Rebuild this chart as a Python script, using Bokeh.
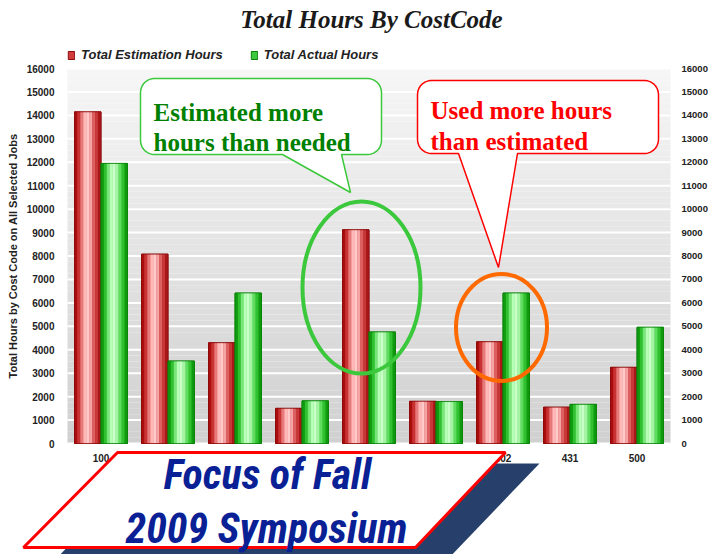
import numpy as np
from bokeh.plotting import figure
from bokeh.models import (Range1d, FixedTicker, LinearAxis, Legend, LegendItem,
                          PolyAnnotation, Label, ColumnDataSource)
from bokeh.transform import dodge
from bokeh.embed import file_html
from bokeh.resources import INLINE

# ---------------- data ----------------
cost_codes = ["100", "180", "200", "250", "303", "307", "402", "431", "500"]
estimation_hours = [14150, 8080, 4300, 1500, 9120, 1800, 4340, 1550, 3250]
actual_hours = [11950, 3520, 6420, 1820, 4760, 1790, 6420, 1670, 4960]
y_ticks = list(range(0, 16001, 1000))
series_names = ["Total Estimation Hours", "Total Actual Hours"]
chart_title = "Total Hours By CostCode"
y_title = "Total Hours by Cost Code on All Selected Jobs"

Y_MAX = 16000
N = len(cost_codes)

# page geometry: canvas at the page origin; plot area 67..670 x 68..443
CANVAS_W, CANVAS_H = 708, 554
PAGE_OFF = 0
AREA_L, AREA_R, AREA_T, AREA_B = 67, 670, 68, 443
KX = N / (AREA_R - AREA_L)          # data units per px (x)
KY = Y_MAX / (AREA_B - AREA_T)      # data units per px (y)


def dx(px):
    return (px - AREA_L) * KX


def dy(py):
    return (AREA_B - py) * KY


x_range = Range1d(dx(PAGE_OFF), dx(PAGE_OFF + CANVAS_W))
y_range = Range1d(dy(PAGE_OFF + CANVAS_H), dy(PAGE_OFF))

p = figure(x_range=x_range, y_range=y_range, width=CANVAS_W, height=CANVAS_H,
           output_backend="svg", toolbar_location=None,
           x_axis_location=None, y_axis_location=None,
           min_border=0, min_border_left=0, min_border_right=0,
           min_border_top=0, min_border_bottom=0)
p.background_fill_color = "white"
p.border_fill_color = "white"
p.outline_line_color = None
p.xgrid.visible = False
p.ygrid.visible = False

# background gradient bands of the plot area
n_bands = 64
edges = np.linspace(0, Y_MAX, n_bands + 1)
cols = []
for i in range(n_bands):
    t = (i + 0.5) / n_bands
    g = int(round(0xd0 + (0xf6 - 0xd0) * t))
    cols.append("#%02x%02x%02x" % (g, g, g))
p.quad(left=0, right=N, bottom=edges[:-1], top=edges[1:],
       fill_color=cols, line_color=None, level="image")
# white grid lines
p.segment(x0=0, x1=N, y0=y_ticks, y1=y_ticks, line_color="white", line_width=2,
          level="underlay")

# axes
tick_font = dict(major_label_text_font="Liberation Sans", major_label_text_font_style="bold",
                 major_label_text_font_size="10px", major_label_text_color="#222222",
                 axis_line_color=None, major_tick_line_color=None, minor_tick_line_color=None)
left_axis = LinearAxis(ticker=FixedTicker(ticks=y_ticks), fixed_location=0, bounds=(0, Y_MAX),
                       major_label_standoff=7, axis_label=y_title,
                       axis_label_text_font="Liberation Sans", axis_label_text_font_style="bold",
                       axis_label_text_font_size="11px", axis_label_text_color="#222222",
                       axis_label_standoff=5, **tick_font)
right_axis = LinearAxis(ticker=FixedTicker(ticks=y_ticks), fixed_location=N, bounds=(0, Y_MAX),
                        major_label_standoff=5, **tick_font)
right_axis.major_label_text_font_size = "9.5px"
x_centers = [i + 0.5 for i in range(N)]
bottom_axis = LinearAxis(ticker=FixedTicker(ticks=x_centers), fixed_location=0, bounds=(0, N),
                         major_label_overrides={c: code for c, code in zip(x_centers, cost_codes)},
                         major_label_standoff=4, **tick_font)
p.add_layout(left_axis, "left")
p.add_layout(right_axis, "right")
p.add_layout(bottom_axis, "below")

# title
p.add_layout(Label(x=dx(371), y=dy(19), text=chart_title, text_align="center",
                   text_baseline="middle", text_font="Liberation Serif",
                   text_font_style="bold italic", text_font_size="25px", text_color="#1a1a1a"))

# bars (cylinder look with vertical strips)
src = ColumnDataSource(dict(xc=x_centers, code=cost_codes, est=estimation_hours, act=actual_hours))
BAR_W = 0.395
red_strips = ["#a80e0e", "#c83232", "#e67a7a", "#ffb8b8", "#ffcaca",
              "#f4a4a4", "#dd6060", "#c83838", "#a81818"]
green_strips = ["#109a10", "#30c030", "#7ae67a", "#b8ffb8", "#caffca",
                "#a4f4a4", "#60dd60", "#30c030", "#0f9a0f"]
legend_items = []
for name, col, offset, strips, base, edge in [
        (series_names[0], "est", -BAR_W / 2, red_strips, "#d23c3c", "#8a0a0a"),
        (series_names[1], "act", BAR_W / 2, green_strips, "#3cc83c", "#0a800a")]:
    base_r = p.vbar(x=dodge("xc", offset), top=col, width=BAR_W,
                    source=src, fill_color=base, line_color=edge, line_width=1)
    sw = BAR_W / len(strips)
    for i, c in enumerate(strips):
        p.vbar(x=dodge("xc", offset - BAR_W / 2 + (i + 0.5) * sw),
               top=col, width=sw * 1.05, source=src, fill_color=c, line_color=None)
    p.vbar(x=dodge("xc", offset), top=col, width=BAR_W,
           source=src, fill_color=None, line_color=edge, line_width=0.8, line_alpha=0.8)
    legend_items.append(LegendItem(label=name, renderers=[base_r]))

legend = Legend(items=legend_items, orientation="horizontal",
                location=(AREA_L - PAGE_OFF, PAGE_OFF + CANVAS_H - 62),
                margin=0, padding=0, spacing=27, label_standoff=6,
                glyph_width=8, glyph_height=10, label_height=15,
                label_text_font="Liberation Sans", label_text_font_style="bold italic",
                label_text_font_size="13px", label_text_color="#222222",
                background_fill_alpha=0, border_line_color=None)
p.add_layout(legend)

# highlight ellipses
p.ellipse(x=dx(361), y=dy(287), width=118, height=172,
          width_units="screen", height_units="screen", fill_alpha=0,
          line_color="#3cc83c", line_width=4)
p.ellipse(x=dx(501), y=dy(327), width=91, height=107,
          width_units="screen", height_units="screen", fill_alpha=0,
          line_color="#ff6a00", line_width=4)


def callout(l, r, t, b, rad, tail_l, tail_r, apex):
    pts = []

    def arc(cx, cy, a0, a1):
        for a in np.linspace(np.radians(a0), np.radians(a1), 8):
            pts.append((cx + rad * np.cos(a), cy + rad * np.sin(a)))
    arc(l + rad, t + rad, 180, 270)
    arc(r - rad, t + rad, 270, 360)
    arc(r - rad, b - rad, 0, 90)
    pts.append((tail_r, b))
    pts.append(apex)
    pts.append((tail_l, b))
    arc(l + rad, b - rad, 90, 180)
    return [dx(x) for x, _ in pts], [dy(y) for _, y in pts]


xs, ys = callout(140, 381, 78, 154, 14, 282, 341, (350, 192))
p.add_layout(PolyAnnotation(xs=xs, ys=ys, fill_color="white", fill_alpha=1,
                            line_color="#3cc83c", line_alpha=1, line_width=1.5))
xs, ys = callout(417, 658, 80, 153, 14, 458, 517, (498, 267))
p.add_layout(PolyAnnotation(xs=xs, ys=ys, fill_color="white", fill_alpha=1,
                            line_color="#ff0000", line_alpha=1, line_width=1.5))

for txt, x, y, color in [("Estimated more", 153, 112, "#008000"),
                         ("hours than needed", 153, 142, "#008000"),
                         ("Used more hours", 430, 110, "#ff0000"),
                         ("than estimated", 430, 141, "#ff0000")]:
    p.add_layout(Label(x=dx(x), y=dy(y), text=txt, text_font="Liberation Serif",
                       text_font_style="bold", text_font_size="25px", text_color=color,
                       text_baseline="alphabetic"))

# banner
shadow = [(147, 463), (539, 463), (446, 560), (54, 560)]
p.add_layout(PolyAnnotation(xs=[dx(a) for a, _ in shadow], ys=[dy(b) for _, b in shadow],
                            fill_color="#27406b", fill_alpha=1, line_alpha=0, level="overlay"))
banner = [(117, 452), (505, 452), (415, 547), (23, 547)]
p.add_layout(PolyAnnotation(xs=[dx(a) for a, _ in banner], ys=[dy(b) for _, b in banner],
                            fill_color="white", fill_alpha=1, line_color="#ff0000",
                            line_alpha=1, line_width=3, level="overlay"))
for txt, x, y in [("Focus of Fall", 267, 474), ("2009 Symposium", 266, 528)]:
    p.add_layout(Label(x=dx(x), y=dy(y), text=txt, text_align="center", text_baseline="middle",
                       text_font="'Roboto Condensed', Roboto", text_font_style="bold italic",
                       text_font_size="42px", text_color="#0a2196", level="overlay"))

open("out.html", "w").write(file_html(p, INLINE))
